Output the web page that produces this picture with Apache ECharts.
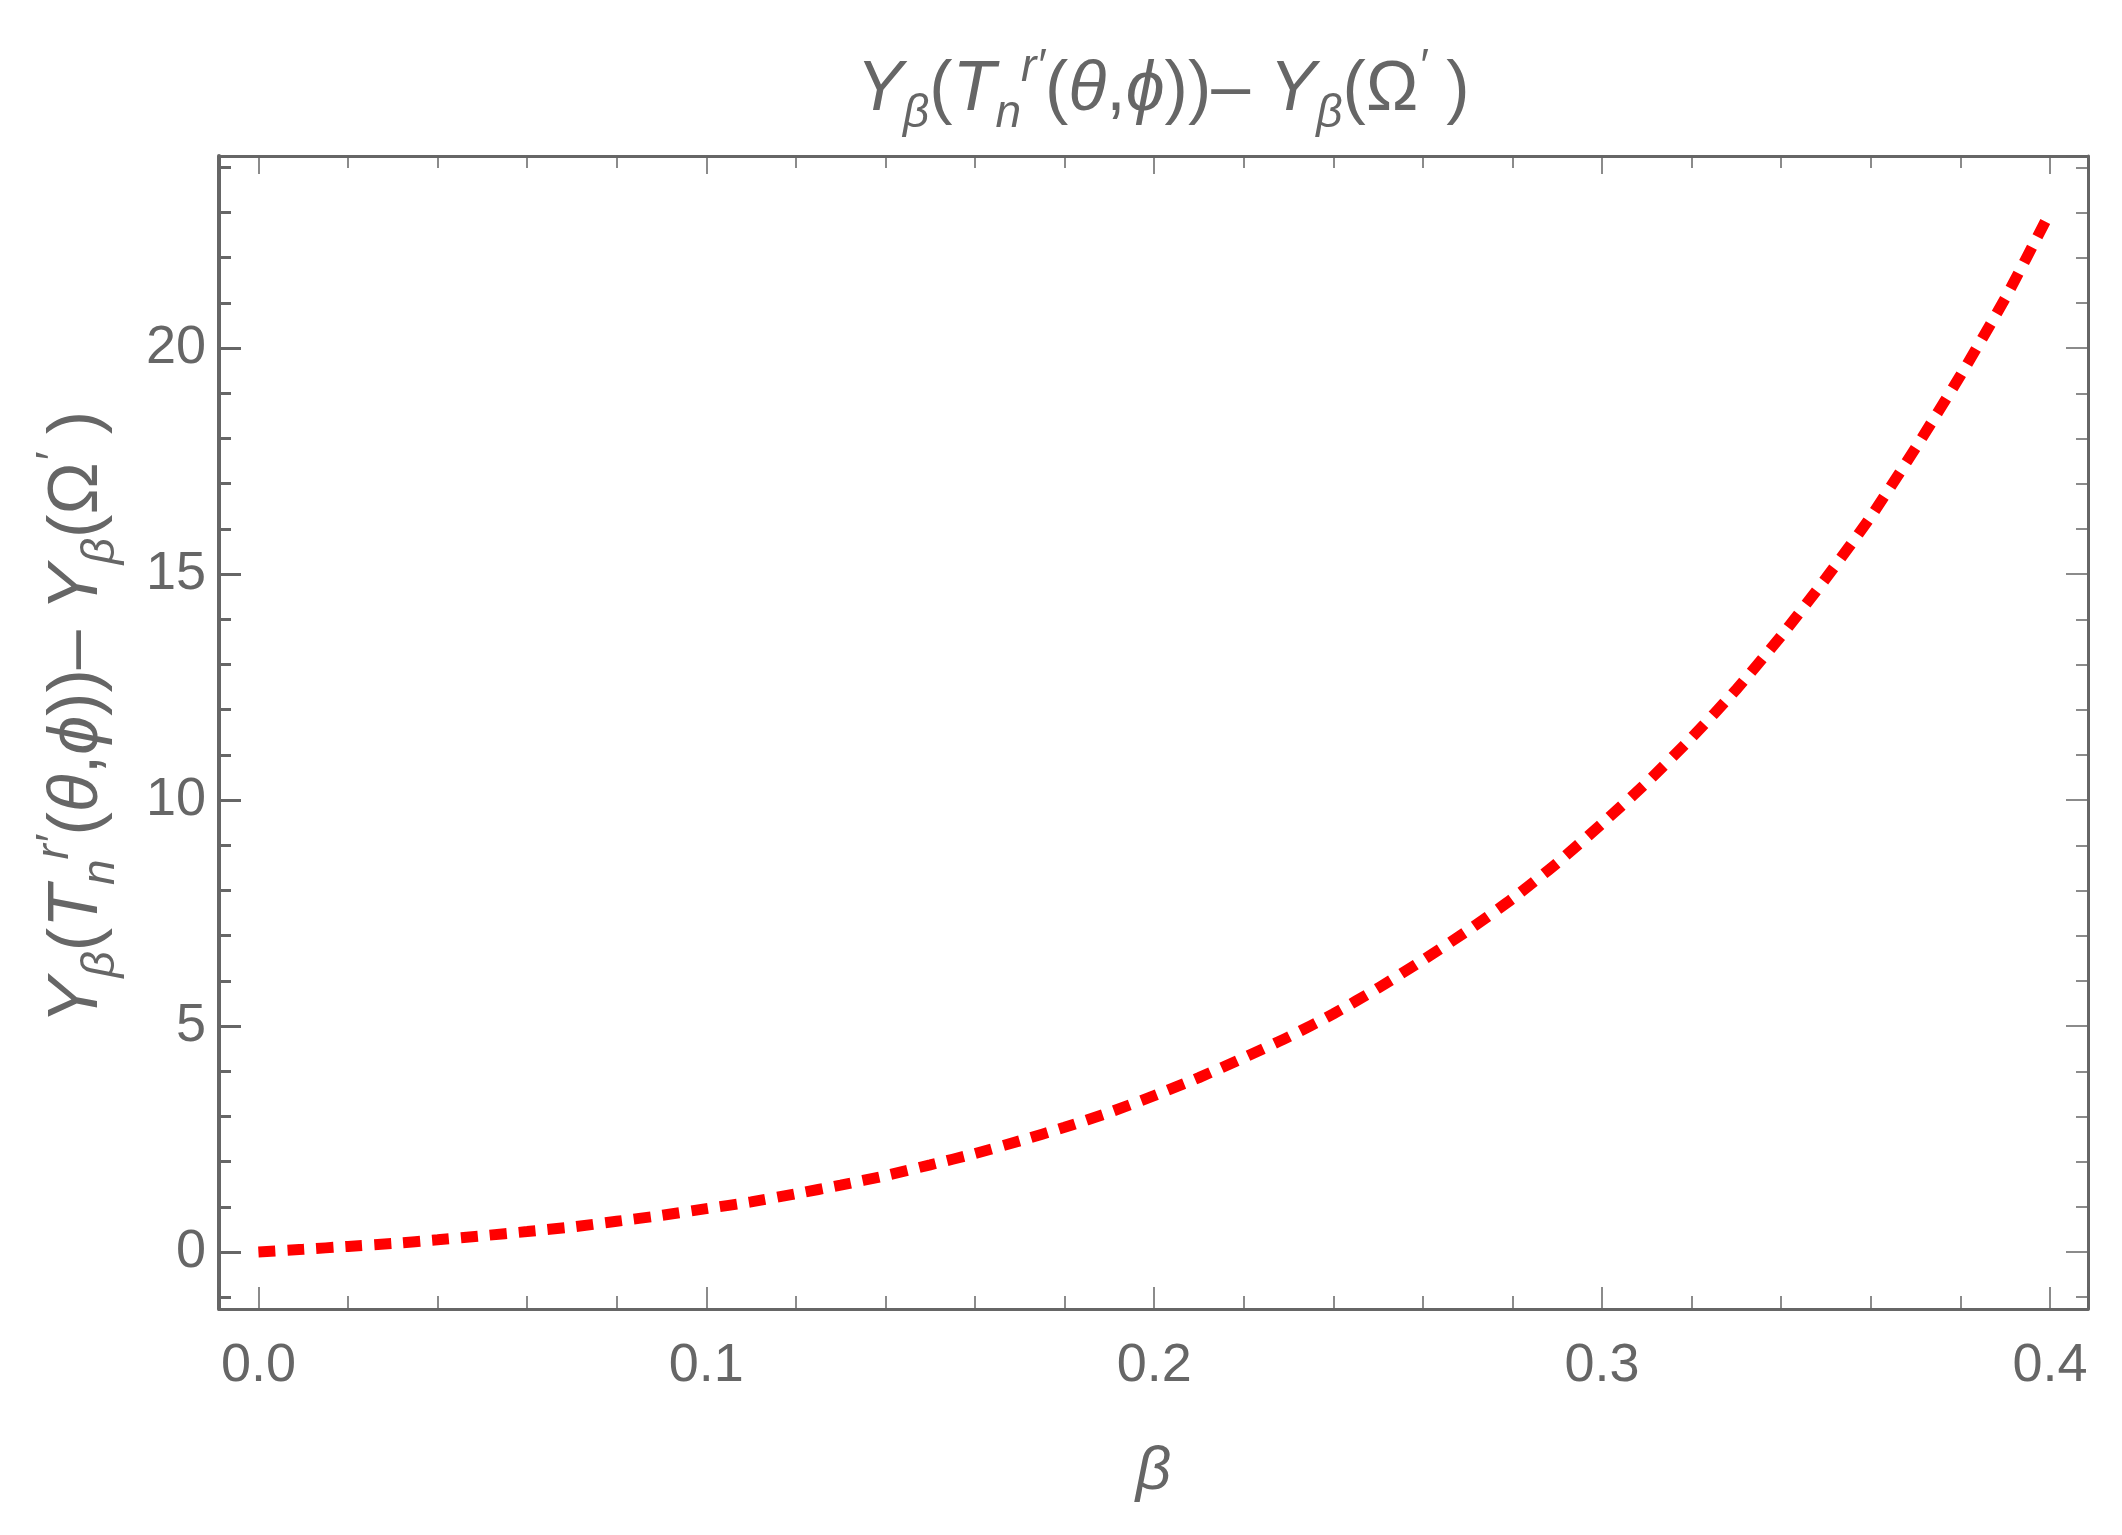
<!DOCTYPE html>
<html>
<head>
<meta charset="utf-8">
<script src="https://cdn.jsdelivr.net/npm/echarts@6/dist/echarts.min.js"></script>
<style>
html,body{margin:0;padding:0;background:#fff;}
#chart{width:2122px;height:1535px;}
</style>
</head>
<body>
<div id="chart"></div>
<script>
// ---- data ----
const betaValues = [0.00,0.01,0.02,0.03,0.04,0.05,0.06,0.07,0.08,0.09,
  0.10,0.11,0.12,0.13,0.14,0.15,0.16,0.17,0.18,0.19,
  0.20,0.21,0.22,0.23,0.24,0.25,0.26,0.27,0.28,0.29,
  0.30,0.31,0.32,0.33,0.34,0.35,0.36,0.37,0.38,0.39,0.40];
const diffValues = [0.00,0.06,0.125,0.19,0.27,0.36,0.453,0.555,0.68,0.81,
  0.96,1.11,1.29,1.48,1.69,1.93,2.18,2.46,2.76,3.09,
  3.46,3.86,4.30,4.76,5.27,5.84,6.46,7.11,7.82,8.61,
  9.48,10.39,11.38,12.45,13.63,14.91,16.27,17.79,19.39,21.10,23.00];
const xTickLabels = ['0.0','0.1','0.2','0.3','0.4'];
const yTickLabels = ['0','5','10','15','20'];
const xRange = [-0.0088, 0.4085];
const yRange = [-1.26, 24.25];

const GRAY = '#666666';
const FONT = "'Liberation Sans', Arial, sans-serif";
const labelText = '{i|Y}{sub|β}{n|(}{i|T}{sub|n}{sup|r′}{n|(}{i|θ}{n|,}{i|ϕ}{n|))– }{i|Y}{sub|β}{n|(Ω}{sup|′}{n| )}';
const richStyles = {
  n:   {fontSize: 70, lineHeight: 92, fontFamily: FONT, fontWeight: 'normal', color: GRAY, verticalAlign: 'middle'},
  i:   {fontSize: 70, lineHeight: 92, fontFamily: FONT, fontWeight: 'normal', fontStyle: 'italic', color: GRAY, verticalAlign: 'middle'},
  sub: {fontSize: 46, lineHeight: 44, fontFamily: FONT, fontWeight: 'normal', fontStyle: 'italic', color: GRAY, verticalAlign: 'bottom'},
  sup: {fontSize: 46, lineHeight: 44, fontFamily: FONT, fontWeight: 'normal', fontStyle: 'italic', color: GRAY, verticalAlign: 'top'}
};

function isMultiple(v, step) {
  const r = v / step;
  return Math.abs(r - Math.round(r)) < 1e-6;
}
function xFmt(v) {
  if (!isMultiple(v, 0.1)) return '';
  const s = v.toFixed(1);
  return xTickLabels.indexOf(s) >= 0 ? s : '';
}
function yFmt(v) {
  if (!isMultiple(v, 5)) return '';
  const s = String(Math.round(v));
  return yTickLabels.indexOf(s) >= 0 ? s : '';
}

function xAxisCfg(pos, showLabel, majorLen, minorLen) {
  return {
    type: 'value', position: pos, min: xRange[0], max: xRange[1], splitNumber: 4,
    axisLine: {show: true, onZero: false, lineStyle: {color: GRAY, width: 3}},
    axisTick: {show: true, inside: true, length: majorLen, lineStyle: {color: GRAY, width: 1.5}},
    minorTick: {show: true, splitNumber: 5, length: minorLen, lineStyle: {color: GRAY, width: 1.5}},
    splitLine: {show: false}, minorSplitLine: {show: false},
    axisLabel: {show: showLabel, formatter: xFmt, color: GRAY, fontSize: 54, fontFamily: FONT, margin: 30,
      showMinLabel: true, showMaxLabel: true}
  };
}
function yAxisCfg(pos, showLabel, lineW, tickW) {
  return {
    type: 'value', position: pos, min: yRange[0], max: yRange[1], splitNumber: 5,
    axisLine: {show: true, onZero: false, lineStyle: {color: GRAY, width: lineW}},
    axisTick: {show: true, inside: true, length: 22, lineStyle: {color: GRAY, width: tickW}},
    minorTick: {show: true, splitNumber: 5, length: 12, lineStyle: {color: GRAY, width: tickW}},
    splitLine: {show: false}, minorSplitLine: {show: false},
    axisLabel: {show: showLabel, formatter: yFmt, color: GRAY, fontSize: 54, fontFamily: FONT, margin: 13}
  };
}

const chart = echarts.init(document.getElementById('chart'), null, {renderer: 'canvas'});

const xBottom = xAxisCfg('bottom', true, 22, 13);
xBottom.name = 'β';
xBottom.nameLocation = 'middle';
xBottom.nameGap = 128;
xBottom.nameTextStyle = {fontSize: 62, fontStyle: 'italic', fontFamily: FONT, color: GRAY, lineHeight: 70};

const yLeft = yAxisCfg('left', true, 4, 3);
yLeft.name = labelText;
yLeft.nameLocation = 'middle';
yLeft.nameRotate = 90;
yLeft.nameGap = 95;
yLeft.nameTextStyle = {rich: richStyles, color: GRAY, fontFamily: FONT, padding: [0, 0, 0, 30]};

chart.setOption({
  backgroundColor: '#ffffff',
  animation: false,
  title: {
    text: labelText,
    left: 1158, top: 40, textAlign: 'center',
    textStyle: {rich: richStyles, color: GRAY, fontFamily: FONT, fontWeight: 'normal'}
  },
  grid: {left: 219, right: 34, top: 156, bottom: 226, containLabel: false},
  xAxis: [xBottom, xAxisCfg('top', false, 18, 12)],
  yAxis: [yLeft, yAxisCfg('right', false, 3, 1.5)],
  series: [{
    type: 'line',
    xAxisIndex: 0, yAxisIndex: 0,
    data: betaValues.map((b, k) => [b, diffValues[k]]),
    showSymbol: false,
    smooth: 0.2,
    clip: true,
    lineStyle: {color: '#ff0000', width: 11, type: [17, 12], cap: 'butt'}
  }]
});
</script>
</body>
</html>
